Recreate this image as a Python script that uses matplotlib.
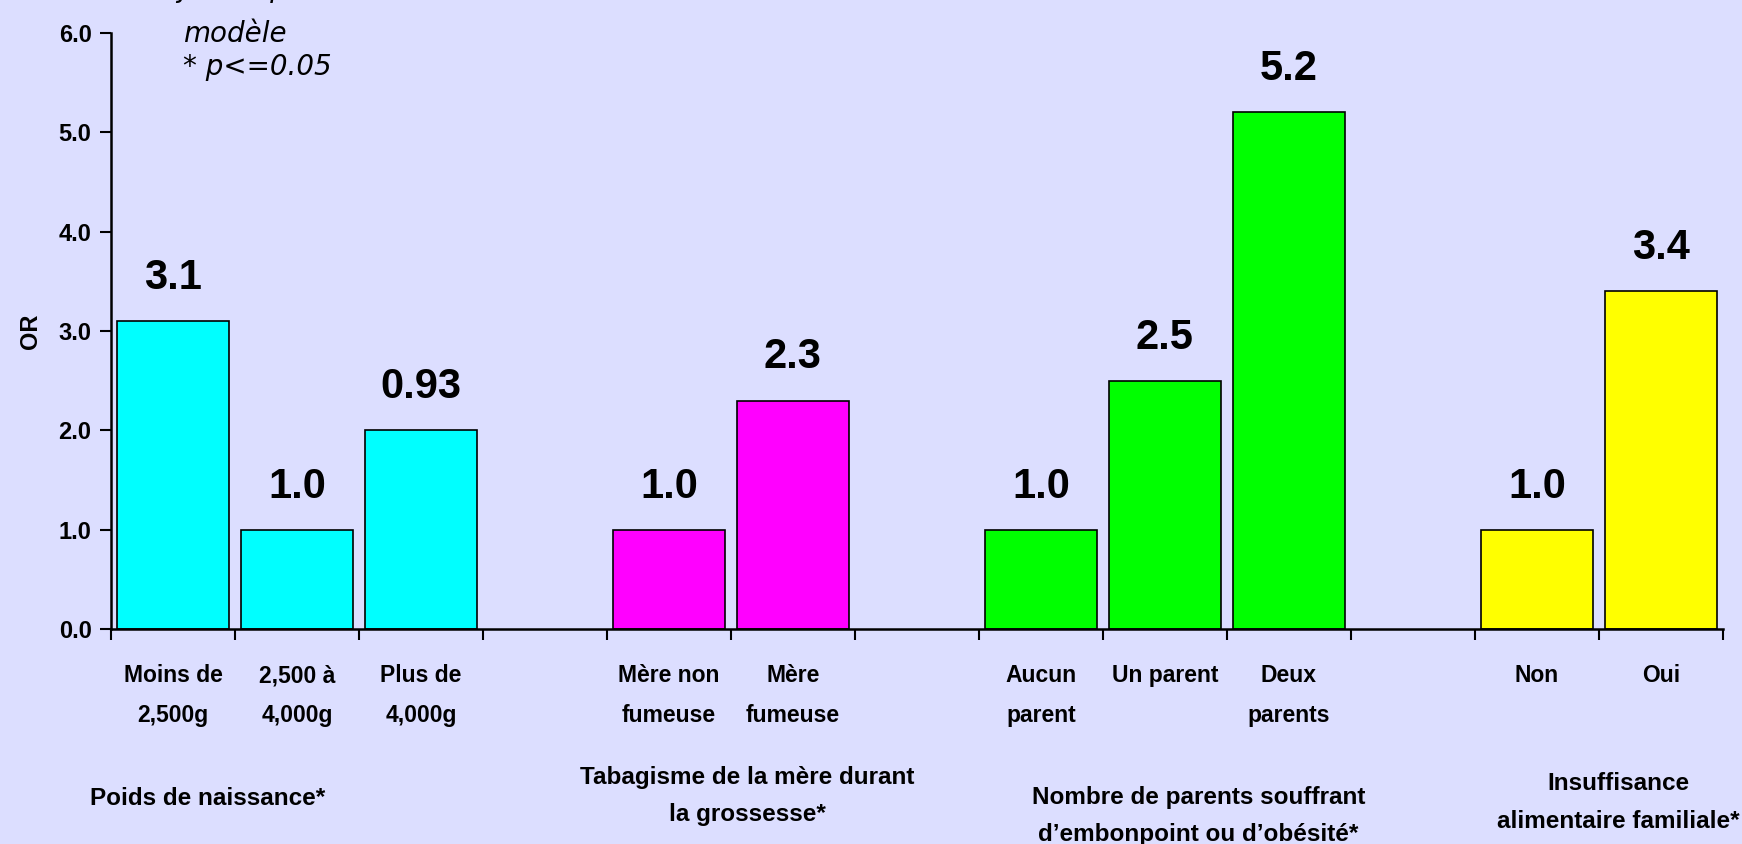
"""Bar chart of odds ratios (OR) by risk factor group."""

import matplotlib
matplotlib.use('Agg')
import matplotlib.pyplot as plt
import matplotlib.transforms as mtransforms


BACKGROUND = '#DCDEFF'
LABEL_FONT = ['Liberation Sans Narrow', 'Liberation Sans', 'DejaVu Sans']

# Slot of each bar along the x axis (gaps separate the groups)
positions = [0, 1, 2, 4, 5, 7, 8, 9, 11, 12]
heights = [3.1, 1.0, 2.0, 1.0, 2.3, 1.0, 2.5, 5.2, 1.0, 3.4]
value_labels = ['3.1', '1.0', '0.93', '1.0', '2.3', '1.0', '2.5', '5.2',
                '1.0', '3.4']
category_labels = [
    'Moins de\n2,500g', '2,500 à\n4,000g', 'Plus de\n4,000g',
    'Mère non\nfumeuse', 'Mère\nfumeuse',
    'Aucun\nparent', 'Un parent', 'Deux\nparents',
    'Non', 'Oui',
]
bar_colors = ['#00FFFF'] * 3 + ['#FF00FF'] * 2 + ['#00FF00'] * 3 + \
    ['#FFFF00'] * 2

group_labels = [
    'Poids de naissance*',
    'Tabagisme de la mère durant\nla grossesse*',
    "Nombre de parents souffrant\nd\u2019embonpoint ou d\u2019obésité*",
    'Insuffisance\nalimentaire familiale*',
]
group_x = [0.28, 4.63, 8.27, 11.66]
group_y = [0.0545, 0.057, 0.033, 0.049]

y_ticks = [0.0, 1.0, 2.0, 3.0, 4.0, 5.0, 6.0]


fig = plt.figure(figsize=(17.42, 8.44), dpi=100)
fig.patch.set_facecolor(BACKGROUND)
ax = fig.add_axes([0.0637, 0.2547, 0.9253, 0.7063])
ax.set_facecolor(BACKGROUND)

ax.bar(positions, heights, width=0.9, color=bar_colors,
       edgecolor='black', linewidth=1.2, zorder=2)

for x, h, text in zip(positions, heights, value_labels):
    ax.annotate(text, (x, h), xytext=(0, 31), textcoords='offset points',
                ha='center', va='center', fontsize=30, fontweight='bold',
                family=LABEL_FONT)

ax.set_xlim(-0.5, 12.5)
ax.set_ylim(0, 6)
ax.set_xticks([i - 0.5 for i in range(14)])
ax.set_xticklabels([])
ax.set_yticks(y_ticks)
ax.set_yticklabels([f'{v:.1f}' for v in y_ticks], fontsize=17,
                   fontweight='bold', family=LABEL_FONT)
ax.tick_params(axis='both', direction='out', length=8, width=1.5,
               color='black')
ax.tick_params(axis='y', pad=6)

for side in ('top', 'right'):
    ax.spines[side].set_visible(False)
for side in ('left', 'bottom'):
    ax.spines[side].set_linewidth(1.8)

ax.set_ylabel('OR', fontsize=17, fontweight='bold', family=LABEL_FONT,
              labelpad=12)

# Category labels under each bar
blend = mtransforms.blended_transform_factory(ax.transData, fig.transFigure)
for x, text in zip(positions, category_labels):
    ax.text(x, 0.213, text, transform=blend, ha='center', va='top',
            fontsize=16.5, fontweight='bold', family=LABEL_FONT,
            linespacing=1.95)

# Group labels
for x, y, text in zip(group_x, group_y, group_labels):
    ax.text(x, y, text, transform=blend, ha='center', va='center',
            fontsize=17.5, fontweight='bold', family=LABEL_FONT,
            linespacing=1.8)

# Notes in the top left corner (first line is cut by the figure edge)
note_font = dict(fontsize=20, style='italic',
                 family=['DejaVu Sans', 'Liberation Sans'])
fig.text(0.092, 1.004, 'Ajustés pour toutes les variables incluses dans le',
         va='baseline', **note_font)
fig.text(0.105, 0.960, 'modèle', va='center', **note_font)
fig.text(0.105, 0.921, '* p<=0.05', va='center', **note_font)

fig.savefig('out.png', dpi=100, facecolor=BACKGROUND)
